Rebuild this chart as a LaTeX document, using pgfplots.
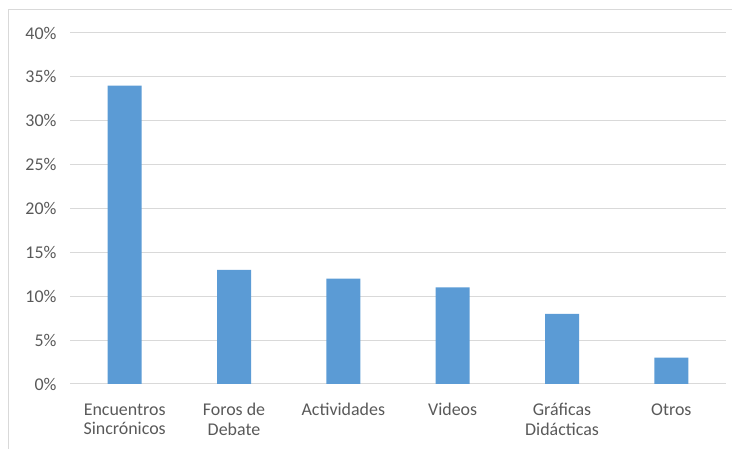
\documentclass[border=0pt]{standalone}
\usepackage{pgfplots}
\pgfplotsset{compat=1.18}
\usepackage{fontspec}
\setmainfont{Carlito}
\definecolor{barblue}{HTML}{5B9BD5}
\definecolor{gridgray}{HTML}{D9D9D9}
\definecolor{txtgray}{HTML}{595959}
\begin{document}
\begin{tikzpicture}[x=1bp,y=1bp]
\useasboundingbox (0,0) rectangle (732,449);
\draw[gridgray, line width=1bp] (8,0) -- (8,439) -- (732,439);
\begin{axis}[
  at={(70bp,65bp)}, anchor=south west,
  scale only axis,
  width=656bp, height=351bp,
  xmin=-0.5, xmax=5.5,
  ymin=0, ymax=40,
  ytick={0,5,...,40},
  yticklabel={\pgfmathprintnumber{\tick}\%},
  /pgf/number format/assume math mode=true,
  xtick=data,
  xticklabels={{Encuentros\\Sincrónicos},{Foros de\\Debate},Actividades,Videos,{Gráficas\\Didácticas},Otros},
  xticklabel style={align=center, font=\fontsize{18}{20}\selectfont, text=txtgray, yshift=-16bp},
  yticklabel style={font=\fontsize{18}{20}\selectfont, text=txtgray, xshift=-10bp},
  axis line style={draw=none},
  major tick length=0pt,
  ymajorgrids,
  grid style={gridgray, line width=1bp},
  clip=false,
]
\addplot[ybar, bar width=34bp, fill=barblue, draw=none] coordinates {
  (0,34) (1,13) (2,12) (3,11) (4,8) (5,3)
};
\end{axis}
\end{tikzpicture}
\end{document}
